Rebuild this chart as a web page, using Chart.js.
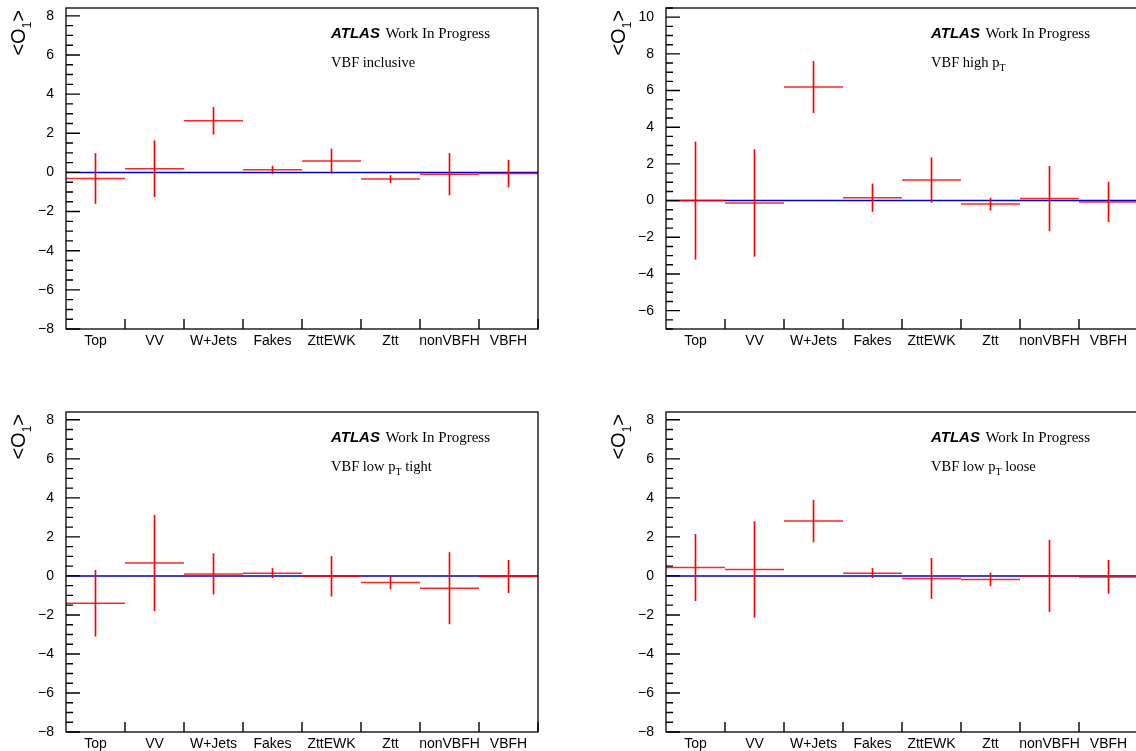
<!DOCTYPE html>
<html>
<head>
    <title>Mean of O1 per sample</title>
    <script src="https://cdn.jsdelivr.net/npm/chart.js"></script>
    <style>
        body { margin: 0; background: #fff; overflow: hidden; }
        canvas { position: absolute; }
    </style>
</head>
<body>
    <canvas id="c0" width="568" height="375" style="left:0px;top:0px"></canvas>
    <canvas id="c1" width="570" height="375" style="left:568px;top:0px"></canvas>
    <canvas id="c2" width="568" height="375" style="left:0px;top:376px"></canvas>
    <canvas id="c3" width="570" height="375" style="left:568px;top:376px"></canvas>
    <script>
        // samples on the x axis
        const samples = ['Top', 'VV', 'W+Jets', 'Fakes', 'ZttEWK', 'Ztt', 'nonVBFH', 'VBFH'];

        // mean of O1 and its error, per region
        const inclusiveMean = [-0.31, 0.19, 2.64, 0.13, 0.58, -0.34, -0.09, -0.06];
        const inclusiveErr  = [1.28, 1.43, 0.69, 0.19, 0.62, 0.18, 1.06, 0.69];
        const highPtMean = [0.0, -0.13, 6.19, 0.16, 1.12, -0.19, 0.11, -0.07];
        const highPtErr  = [3.20, 2.91, 1.40, 0.75, 1.22, 0.33, 1.76, 1.08];
        const lowPtTightMean = [-1.40, 0.66, 0.10, 0.14, -0.02, -0.34, -0.63, -0.03];
        const lowPtTightErr  = [1.69, 2.45, 1.04, 0.24, 1.02, 0.32, 1.83, 0.83];
        const lowPtLooseMean = [0.43, 0.33, 2.81, 0.14, -0.13, -0.18, 0.0, -0.05];
        const lowPtLooseErr  = [1.70, 2.45, 1.07, 0.24, 1.03, 0.33, 1.83, 0.85];

        // y axis labels
        const yTicksStd  = [-8, -6, -4, -2, 0, 2, 4, 6, 8];
        const yTicksHigh = [-6, -4, -2, 0, 2, 4, 6, 8, 10];

        // region text: [text, subscript, text after]
        const regionInclusive = ['VBF inclusive'];
        const regionHighPt = ['VBF high p', 'T', ''];
        const regionLowTight = ['VBF low p', 'T', ' tight'];
        const regionLowLoose = ['VBF low p', 'T', ' loose'];

        const SANS = '"Liberation Sans", Arial, Helvetica, sans-serif';
        const SERIF = '"Liberation Serif", "Times New Roman", serif';

        // draws the ROOT-like frame, ticks, zero line and labels
        const rootStyle = {
            id: 'rootStyle',
            beforeDatasetsDraw(chart) {
                const ctx = chart.ctx, a = chart.chartArea, y = chart.scales.y;
                const y0 = y.getPixelForValue(0);
                ctx.save();
                ctx.strokeStyle = '#0000c8';
                ctx.lineWidth = 1.5;
                ctx.beginPath();
                ctx.moveTo(a.left, y0);
                ctx.lineTo(a.right, y0);
                ctx.stroke();
                ctx.restore();
            },
            afterDraw(chart, args, opts) {
                const ctx = chart.ctx, a = chart.chartArea, y = chart.scales.y;
                ctx.save();
                ctx.strokeStyle = '#000';
                ctx.lineWidth = 1.3;
                ctx.strokeRect(a.left, a.top, a.right - a.left, a.bottom - a.top);

                // y ticks, major every 2, minor every 0.5
                ctx.lineWidth = 1.4;
                ctx.beginPath();
                for (let v = Math.ceil(y.min * 2) / 2; v <= y.max; v += 0.5) {
                    const py = y.getPixelForValue(v);
                    const len = (v % 2 === 0) ? 14 : 7;
                    ctx.moveTo(a.left, py);
                    ctx.lineTo(a.left + len, py);
                }
                // x ticks at the bin edges
                const bw = (a.right - a.left) / samples.length;
                for (let i = 1; i <= samples.length; i++) {
                    const px = a.left + i * bw;
                    ctx.moveTo(px, a.bottom);
                    ctx.lineTo(px, a.bottom - 10);
                }
                ctx.stroke();

                // y title <O1>, rotated
                ctx.translate(a.left - 41, a.top + 2);
                ctx.rotate(-Math.PI / 2);
                ctx.fillStyle = '#000';
                ctx.textBaseline = 'alphabetic';
                ctx.font = '20px ' + SANS;
                const wLt = ctx.measureText('<O').width;
                const wGt = ctx.measureText('>').width;
                ctx.font = '12px ' + SANS;
                const wSub = ctx.measureText('1').width;
                let tx = -(wLt + wSub + wGt);
                ctx.font = '20px ' + SANS;
                ctx.fillText('<O', tx, 0);
                tx += wLt;
                ctx.font = '12px ' + SANS;
                ctx.fillText('1', tx, 6);
                tx += wSub;
                ctx.font = '20px ' + SANS;
                ctx.fillText('>', tx, 0);
                ctx.restore();

                // ATLAS label and region
                ctx.save();
                ctx.fillStyle = '#000';
                let x = a.left + 265;
                ctx.font = 'italic bold 15px ' + SANS;
                ctx.fillText('ATLAS', x, a.top + 30);
                x += ctx.measureText('ATLAS').width + 5.5;
                ctx.font = '15px ' + SERIF;
                ctx.fillText('Work In Progress', x, a.top + 30);

                const r = opts.region;
                x = a.left + 265;
                ctx.font = '14.5px ' + SERIF;
                ctx.fillText(r[0], x, a.top + 58.5);
                if (r.length > 1) {
                    x += ctx.measureText(r[0]).width;
                    ctx.font = '10px ' + SERIF;
                    ctx.fillText(r[1], x, a.top + 63);
                    x += ctx.measureText(r[1]).width;
                    ctx.font = '14.5px ' + SERIF;
                    ctx.fillText(r[2], x, a.top + 58.5);
                }
                ctx.restore();
            }
        };

        function makePanel(id, means, errs, yMin, yMax, yTicks, region, leftW, rightPad, topPad, bottomH) {
            const ctx = document.getElementById(id).getContext('2d');
            new Chart(ctx, {
                type: 'bar',
                data: {
                    labels: samples,
                    datasets: [{
                        type: 'line',
                        data: means,
                        showLine: false,
                        pointStyle: 'line',
                        pointRadius: 29.5,
                        pointHoverRadius: 29.5,
                        pointBorderWidth: 1.5,
                        borderColor: 'rgba(255, 0, 0, 0.85)'
                    }, {
                        data: means.map((m, i) => [m - errs[i], m + errs[i]]),
                        backgroundColor: '#ff0000',
                        borderWidth: 0,
                        barThickness: 1
                    }]
                },
                options: {
                    responsive: false,
                    animation: false,
                    events: [],
                    layout: {
                        autoPadding: false,
                        padding: { left: 0, right: rightPad, top: topPad, bottom: 0 }
                    },
                    scales: {
                        x: {
                            grid: { display: false },
                            border: { display: false },
                            ticks: {
                                color: '#000',
                                font: { family: SANS, size: 14 },
                                padding: -4,
                                maxRotation: 0,
                                autoSkip: false
                            },
                            afterFit: s => {
                                s.height = bottomH;
                                s.paddingLeft = 0;
                                s.paddingRight = 0;
                            }
                        },
                        y: {
                            min: yMin,
                            max: yMax,
                            grid: { display: false },
                            border: { display: false },
                            afterBuildTicks: s => { s.ticks = yTicks.map(v => ({ value: v })); },
                            afterFit: s => {
                                s.width = leftW;
                                s.paddingTop = 0;
                                s.paddingBottom = 0;
                            },
                            ticks: {
                                color: '#000',
                                font: { family: SANS, size: 14 },
                                padding: 4,
                                callback: v => String(v).replace('-', '\u2212')
                            }
                        }
                    },
                    plugins: {
                        legend: { display: false },
                        tooltip: { enabled: false },
                        rootStyle: { region: region }
                    }
                },
                plugins: [rootStyle]
            });
        }

        makePanel('c0', inclusiveMean, inclusiveErr, -8, 8.4, yTicksStd, regionInclusive, 66, 30, 8, 46);
        makePanel('c1', highPtMean, highPtErr, -7, 10.5, yTicksHigh, regionHighPt, 98, 0, 8, 46);
        makePanel('c2', lowPtTightMean, lowPtTightErr, -8, 8.4, yTicksStd, regionLowTight, 66, 30, 36, 19);
        makePanel('c3', lowPtLooseMean, lowPtLooseErr, -8, 8.4, yTicksStd, regionLowLoose, 98, 0, 36, 19);
    </script>
</body>
</html>
